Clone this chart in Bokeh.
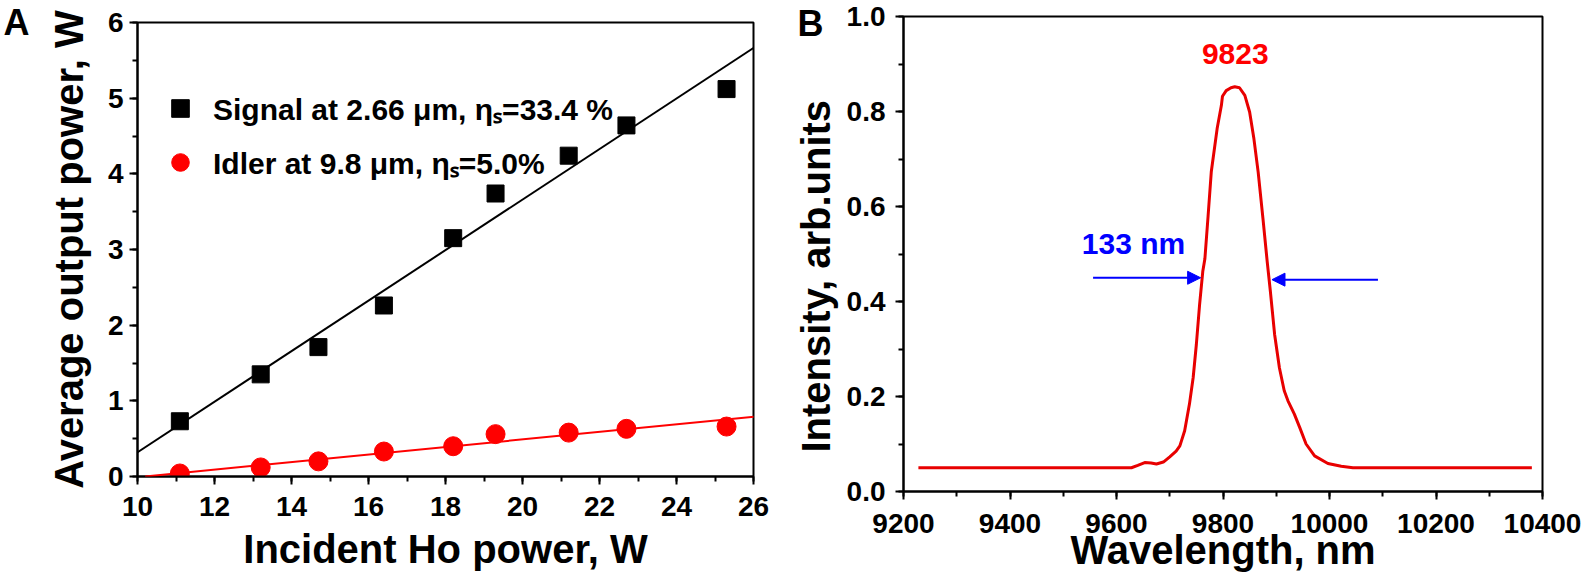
from bokeh.plotting import figure
from bokeh.layouts import row, column
from bokeh.models import (Legend, LegendItem, Slope, Label, Arrow, NormalHead,
                          SingleIntervalTicker, FixedTicker, NumeralTickFormatter,
                          CustomJSTickFormatter, LinearAxis, Range1d)
from bokeh.embed import file_html
from bokeh.resources import INLINE

# ---- panel A: output power vs incident Ho power
pump = [11.1, 13.2, 14.7, 16.4, 18.2, 19.3, 21.2, 22.7, 25.3]
signal = [0.73, 1.35, 1.71, 2.26, 3.15, 3.74, 4.24, 4.64, 5.12]
idler = [0.04, 0.12, 0.20, 0.33, 0.40, 0.56, 0.58, 0.63, 0.66]
signal_fit = (0.334, -3.02)   # slope, intercept
idler_fit = (0.050, -0.51)
signal_label = "Signal at 2.66 \u03bcm, \u03b7\u209b=33.4 %"
idler_label = "Idler at 9.8 \u03bcm, \u03b7\u209b=5.0%"

# ---- panel B: idler spectrum
wavelength = [9228, 9300, 9400, 9500, 9600, 9628, 9640, 9653, 9665, 9675,
              9688, 9700, 9712, 9719, 9728, 9737, 9744, 9750, 9756, 9762,
              9766, 9772, 9778, 9789, 9797, 9799, 9806, 9815, 9822, 9831,
              9841, 9850, 9858, 9866, 9875, 9883, 9889, 9897, 9906, 9915,
              9922, 9934, 9944, 9956, 9972, 9997, 10022, 10044, 10100, 10200,
              10300, 10380]
intensity = [0.05, 0.05, 0.05, 0.05, 0.05, 0.05, 0.055, 0.061, 0.060, 0.058,
             0.062, 0.073, 0.085, 0.096, 0.128, 0.184, 0.24, 0.31, 0.393, 0.463,
             0.49, 0.58, 0.673, 0.764, 0.813, 0.832, 0.844, 0.850, 0.852, 0.850,
             0.834, 0.799, 0.743, 0.673, 0.575, 0.484, 0.421, 0.33, 0.26, 0.212,
             0.191, 0.163, 0.135, 0.10, 0.075, 0.059, 0.053, 0.05, 0.05, 0.05,
             0.05, 0.05]
peak_wl = 9823
fwhm_left = 9758
fwhm_right = 9892
fwhm_level = 0.448
fwhm_text = "133 nm"

FONT = "Liberation Sans"


def style(p, xtick, ytick):
    p.xgrid.grid_line_color = None
    p.ygrid.grid_line_color = None
    p.outline_line_color = "black"
    p.outline_line_width = 2
    p.outline_line_alpha = 1
    p.xaxis.ticker = SingleIntervalTicker(interval=xtick, num_minor_ticks=2)
    p.yaxis.ticker = SingleIntervalTicker(interval=ytick, num_minor_ticks=2)
    for ax in (p.xaxis[0], p.yaxis[0]):
        ax.axis_line_width = 2
        ax.axis_line_color = "black"
        ax.major_tick_line_width = 2
        ax.minor_tick_line_width = 2
        ax.major_tick_line_color = "black"
        ax.minor_tick_line_color = "black"
        ax.major_tick_in = 0
        ax.major_tick_out = 8
        ax.minor_tick_in = 0
        ax.minor_tick_out = 5
        ax.major_label_text_font = FONT
        ax.major_label_text_font_style = "bold"
        ax.major_label_text_font_size = "28px"
        ax.major_label_text_color = "black"
        ax.axis_label_text_font = FONT
        ax.axis_label_text_font_style = "bold"
        ax.axis_label_text_font_size = "40px"
        ax.axis_label_text_color = "black"


def panel_letter(p, letter, tick, standoff):
    # an outer left axis whose only tick label is the panel letter
    p.extra_y_ranges = {"letter": Range1d(0, 1)}
    ax = LinearAxis(y_range_name="letter",
                    ticker=FixedTicker(ticks=[tick], minor_ticks=[]),
                    formatter=CustomJSTickFormatter(code="return '%s';" % letter),
                    axis_line_color=None, major_tick_line_color=None,
                    minor_tick_line_color=None, major_tick_in=0, major_tick_out=0,
                    major_label_standoff=standoff,
                    major_label_text_font=FONT, major_label_text_font_style="bold",
                    major_label_text_font_size="36px", major_label_text_color="black")
    p.add_layout(ax, "left")


# ---------------- panel A
pa = figure(width=790, height=578, output_backend="svg", toolbar_location=None,
            x_range=Range1d(10, 26), y_range=Range1d(0, 6),
            min_border_left=130, min_border_right=37,
            min_border_top=22, min_border_bottom=102)
style(pa, 2, 1)
pa.xaxis.axis_label = "Incident Ho power, W"
pa.yaxis.axis_label = "Average output power, W"
pa.xaxis.major_label_standoff = 12
pa.yaxis.major_label_standoff = 6
pa.xaxis.axis_label_standoff = 8
pa.yaxis.axis_label_standoff = 14
panel_letter(pa, "A", 1.0, 14)

pa.add_layout(Slope(gradient=signal_fit[0], y_intercept=signal_fit[1],
                    line_color="black", line_width=2))
pa.add_layout(Slope(gradient=idler_fit[0], y_intercept=idler_fit[1],
                    line_color="#ff0000", line_width=2))
r_sig = pa.scatter(pump, signal, marker="square", size=17, color="black")
r_idl = pa.scatter(pump, idler, marker="circle", size=19, color="#ff0000")

legend = Legend(items=[LegendItem(label=signal_label, renderers=[r_sig]),
                       LegendItem(label=idler_label, renderers=[r_idl])],
                location=(21, 292))
legend.glyph_width = 44
legend.glyph_height = 44
legend.label_height = 44
legend.spacing = 10
legend.padding = 0
legend.margin = 0
legend.label_standoff = 11
legend.border_line_alpha = 0
legend.background_fill_alpha = 0
legend.label_text_font = FONT
legend.label_text_font_style = "bold"
legend.label_text_font_size = "30px"
legend.label_text_color = "black"
pa.add_layout(legend)

# ---------------- panel B
pb = figure(width=792, height=578, output_backend="svg", toolbar_location=None,
            x_range=Range1d(9200, 10400), y_range=Range1d(0, 1.0),
            min_border_left=111, min_border_right=40,
            min_border_top=16, min_border_bottom=87)
style(pb, 200, 0.2)
pb.yaxis.formatter = NumeralTickFormatter(format="0.0")
pb.xaxis.axis_label = "Wavelength, nm"
pb.yaxis.axis_label = "Intensity, arb.units" + "\u00a0" * 4
pb.xaxis.major_label_standoff = 14
pb.yaxis.major_label_standoff = 10
pb.xaxis.axis_label_standoff = -8
pb.yaxis.axis_label_standoff = 6
panel_letter(pb, "B", 0.995, -33)

pb.line(wavelength, intensity, line_color="#e80000", line_width=3)

pb.add_layout(Arrow(x_start=9556, y_start=fwhm_level + 0.002, x_end=fwhm_left,
                    y_end=fwhm_level + 0.002, line_color="#0000ff", line_width=2,
                    end=NormalHead(size=13, fill_color="#0000ff",
                                   line_color="#0000ff")))
pb.add_layout(Arrow(x_start=10091, y_start=fwhm_level - 0.002, x_end=fwhm_right,
                    y_end=fwhm_level - 0.002, line_color="#0000ff", line_width=2,
                    end=NormalHead(size=13, fill_color="#0000ff",
                                   line_color="#0000ff")))
pb.add_layout(Label(x=9632, y=0.523, text=fwhm_text, text_font=FONT,
                    text_font_style="bold", text_font_size="30px",
                    text_color="#0000ff", text_align="center",
                    text_baseline="middle"))
pb.add_layout(Label(x=peak_wl, y=0.921, text=str(peak_wl), text_font=FONT,
                    text_font_style="bold", text_font_size="30px",
                    text_color="#ff0000", text_align="center",
                    text_baseline="middle"))

# wrap each figure in its own column so the row does not line up their frames
layout = row(column(pa), column(pb))
open("out.html", "w").write(file_html(layout, INLINE))
